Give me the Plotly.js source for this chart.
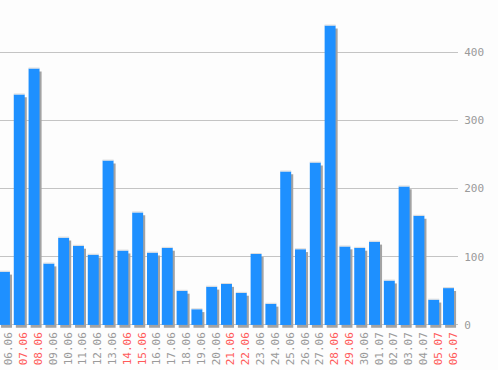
<!DOCTYPE html>
<html>
<head>
<meta charset="utf-8">
<script src="https://cdn.plot.ly/plotly-3.0.1.min.js"></script>
<style>html,body{margin:0;padding:0;background:#fdfdfd;}#chart{width:498px;height:370px;}</style>
</head>
<body>
<div id="chart"></div>
<script>
var categories = ["06.06","07.06","08.06","09.06","10.06","11.06","12.06","13.06","14.06","15.06","16.06","17.06","18.06","19.06","20.06","21.06","22.06","23.06","24.06","25.06","26.06","27.06","28.06","29.06","30.06","01.07","02.07","03.07","04.07","05.07","06.07"];
var values = [78,338,376,90,128,116,103,241,109,165,106,113,50,23,56,60,47,104,31,225,111,238,439,115,113,122,65,203,160,37,54];
var weekendLabels = ["07.06","08.06","14.06","15.06","21.06","22.06","28.06","29.06","05.07","06.07"];
var yTicks = [0,100,200,300,400];

var idx = categories.map(function(_, i){ return i; });
var tickText = categories.map(function(c){
  var col = weekendLabels.indexOf(c) >= 0 ? '#ff5a5a' : '#9a9a9a';
  return '<span style="color:' + col + '">' + c + '</span>';
});
var labelShift = 0.3;

var bw = 0.74;
var shadow = {
  type: 'bar', x: idx, y: values, base: -4.2,
  width: bw, offset: -bw/2 + 0.14,
  marker: {color: '#a3a3a3', line: {width: 0}},
  hoverinfo: 'skip', showlegend: false
};
var highlight = {
  type: 'bar', x: idx, y: values.map(function(){ return 1.5; }), base: values,
  width: bw, offset: -bw/2,
  marker: {color: '#dcdcdc', line: {width: 0}},
  hoverinfo: 'skip', showlegend: false
};
var main = {
  type: 'bar', x: idx, y: values,
  width: bw, offset: -bw/2,
  marker: {color: '#1e90ff', line: {width: 0}},
  showlegend: false
};

var layout = {
  width: 498, height: 370,
  margin: {l: 0, r: 40, t: 0, b: 41, pad: 0},
  paper_bgcolor: '#fdfdfd', plot_bgcolor: '#fdfdfd',
  barmode: 'overlay',
  xaxis: {
    range: [-0.3, 30.64], tickmode: 'array',
    tickvals: idx.map(function(i){ return i + labelShift; }), ticktext: tickText,
    tickangle: -90, showgrid: false, zeroline: false, showline: false, ticks: '',
    ticklabeloverflow: 'allow',
    tickfont: {family: 'DejaVu Sans Mono', size: 11, color: '#9a9a9a'},
    fixedrange: true
  },
  yaxis: {
    side: 'right', range: [-6, 476.5], tickmode: 'array', tickvals: yTicks,
    ticktext: yTicks.map(String),
    showgrid: true, gridcolor: '#c4c4c4', gridwidth: 1,
    zeroline: true, zerolinecolor: '#c4c4c4', zerolinewidth: 1,
    showline: false, ticks: 'outside', ticklen: 3, tickcolor: 'rgba(0,0,0,0)',
    ticklabeloverflow: 'allow',
    tickfont: {family: 'DejaVu Sans Mono', size: 11, color: '#9a9a9a'},
    fixedrange: true
  }
};

Plotly.newPlot('chart', [shadow, main, highlight], layout, {staticPlot: true, displayModeBar: false});
</script>
</body>
</html>
